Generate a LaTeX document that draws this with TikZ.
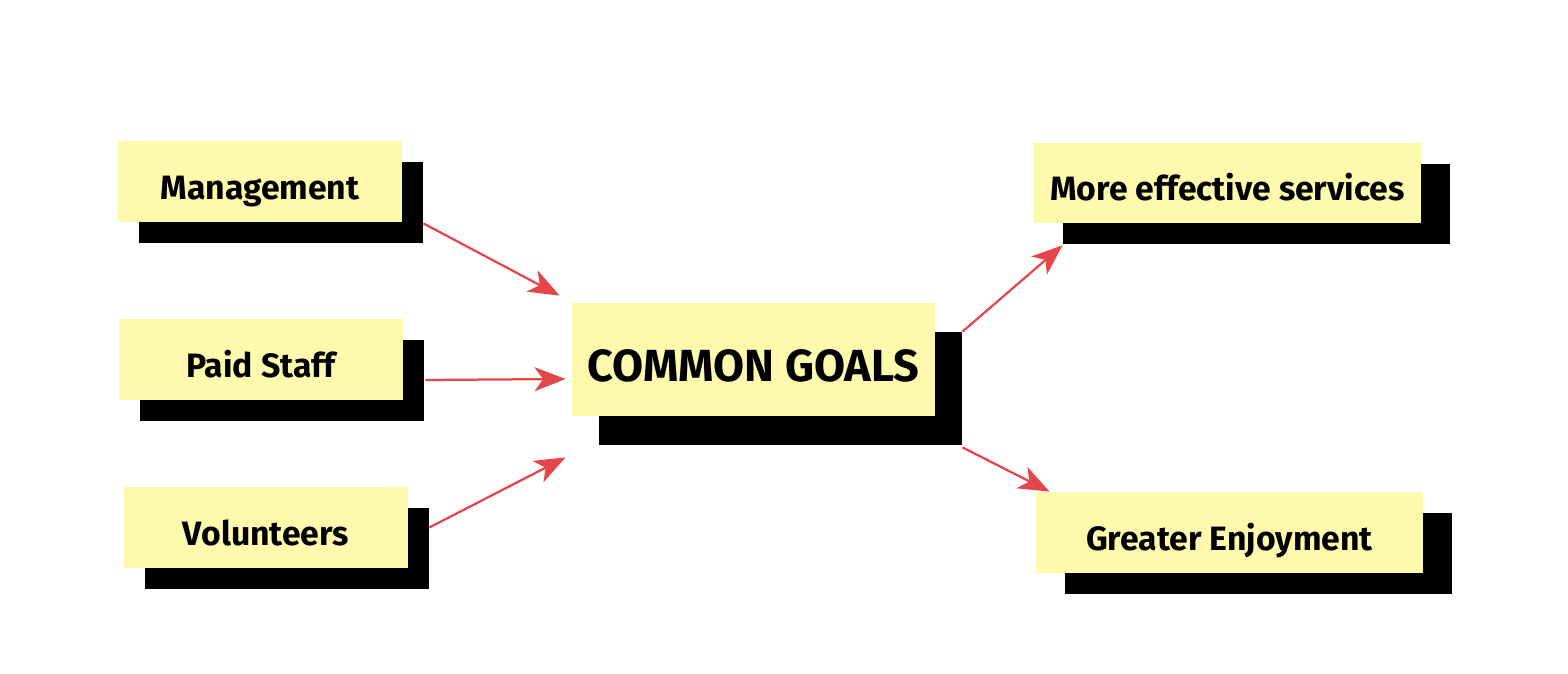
\documentclass[tikz,border=0pt]{standalone}
\usepackage{fontspec}
\setmainfont{Fira Sans}
\usetikzlibrary{arrows.meta,shadows}
\definecolor{notepad}{HTML}{FFF9AE}
\definecolor{linkred}{HTML}{E6464B}

\begin{document}
\begin{tikzpicture}[
	x=0.025cm,
	y=-0.025cm,
	line join=round,
	>={Stealth[length=22pt,width=17pt,inset=6pt]},
	card/.style 2 args={
		fill=notepad,
		inner sep=0pt,
		text height=25pt,
		text depth=0pt,
		font=\fontsize{24}{28}\selectfont\bfseries,
		general shadow={fill=black, shadow xshift=#1, shadow yshift=-#2},
		},
	link/.style={->, draw=linkred, line width=1.6pt},
	]
\useasboundingbox (0,0) rectangle (1568,674);
% sources
\node[card={0.525cm}{0.525cm}, minimum width=7.1cm, minimum height=2.03cm] (mgmt) at (260,181.5) {Management};
\node[card={0.525cm}{0.525cm}, minimum width=7.1cm, minimum height=2.03cm] (staff) at (261,359.5) {Paid Staff};
\node[card={0.525cm}{0.525cm}, minimum width=7.1cm, minimum height=2.03cm] (vol) at (266,527.5) {Volunteers};
% centre
\node[card={0.68cm}{0.73cm}, minimum width=9.08cm, minimum height=2.83cm,
	text height=30.6pt, font=\fontsize{32}{36}\selectfont\bfseries] (goals) at (753.5,359.5) {COMMON GOALS};
% outcomes
\node[card={0.73cm}{0.53cm}, minimum width=9.68cm, minimum height=2cm] (services) at (1227.5,183) {More effective services};
\node[card={0.73cm}{0.53cm}, minimum width=9.68cm, minimum height=2.03cm] (joy) at (1229.5,532.5) {Greater Enjoyment};
% free arrow ends
\coordinate (in1) at ([shift={(-12,-7)}]goals.north west);
\coordinate (in2) at ([shift={(-6,19.5)}]goals.west);
\coordinate (in3) at ([shift={(-6,41)}]goals.south west);
\draw[link] ([shift={(21,1)}]mgmt.south east) -- (in1);
\draw[link] ([shift={(22,20.5)}]staff.east) -- (in2);
\draw[link] ([shift={(21,0)}]vol.east) -- (in3);
\draw[link] ([shift={(27,29)}]goals.north east) -- ([shift={(29,22)}]services.south west);
\draw[link] ([shift={(27,31)}]goals.south east) -- ([shift={(14,0)}]joy.north west);
\end{tikzpicture}
\end{document}
